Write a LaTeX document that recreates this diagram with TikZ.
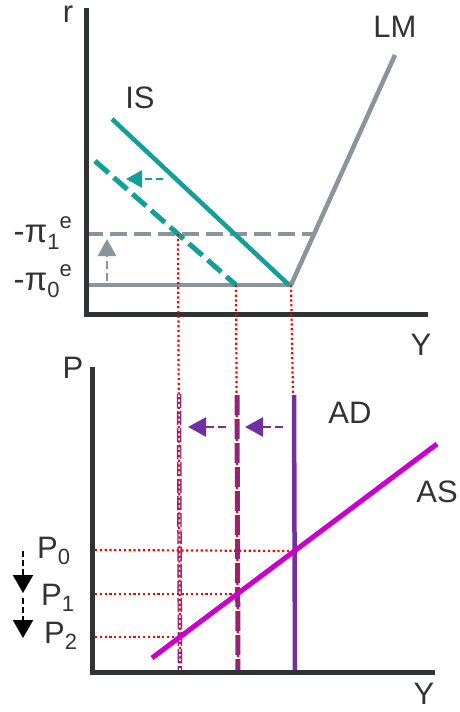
\documentclass[tikz,border=0pt]{standalone}
\usepackage{fontspec}
\setmainfont{Liberation Sans}
\usetikzlibrary{arrows.meta}
\definecolor{axisc}{HTML}{303335}
\definecolor{lmgray}{HTML}{8A949B}
\definecolor{tealc}{HTML}{10A098}
\definecolor{adpurple}{HTML}{7030A0}
\definecolor{asmag}{HTML}{CC00CC}
\definecolor{txtc}{HTML}{333333}
\newcommand\lowtx[1]{\raisebox{-0.22em}{\fontsize{22}{22}\selectfont #1}}
\newcommand\hightx[1]{\raisebox{0.42em}{\fontsize{22}{22}\selectfont #1}}
\begin{document}
\begin{tikzpicture}[x=1pt,y=-1pt,
  axisline/.style={draw=axisc, line width=5pt},
  lmline/.style={draw=lmgray, line width=4.5pt},
  lmdash/.style={draw=lmgray, line width=4.5pt, dash pattern=on 17pt off 7pt},
  isline/.style={draw=tealc, line width=4.5pt},
  isdash/.style={draw=tealc, line width=5pt, dash pattern=on 18pt off 7pt},
  guide/.style={draw=red, line width=2.2pt, dash pattern=on 2.2pt off 2.6pt},
  adline/.style={draw=adpurple, line width=4.5pt},
  addash/.style={draw=adpurple, line width=5pt, dash pattern=on 20pt off 4pt},
  addash2/.style={draw=adpurple, line width=4.5pt, dash pattern=on 14pt off 3pt},
  asline/.style={draw=asmag, line width=5pt},
  tealarrow/.style={draw=tealc, line width=2.6pt, dash pattern=on 7pt off 4pt, -{Triangle[length=16pt,width=17pt]}},
  grayarrow/.style={draw=lmgray, line width=2.6pt, dash pattern=on 8pt off 4pt, -{Triangle[length=17pt,width=18pt]}},
  purplearrow/.style={draw=adpurple, line width=2.6pt, dash pattern=on 8pt off 4pt, -{Triangle[length=18pt,width=19pt]}},
  blackarrow/.style={draw=black, line width=2.2pt, dash pattern=on 6pt off 3pt, -{Triangle[length=18pt,width=20pt]}},
  lbl/.style={text=txtc, font=\fontsize{31}{31}\selectfont, inner sep=0pt, anchor=base},
  plbl/.style={text=txtc, font=\fontsize{31}{31}\selectfont, inner sep=0pt, anchor=base west},
  pilbl/.style={text=txtc, font=\fontsize{33}{33}\selectfont, inner sep=0pt, anchor=base east}
]
\useasboundingbox (0,0) rectangle (459,712);

% ---------- coordinates: top panel ----------
\coordinate (rtop) at (86,8);
\coordinate (o1) at (86,314);
\coordinate (xend1) at (428,314);
\coordinate (lmk) at (291,285);
\coordinate (lmtop) at (395,55);
\coordinate (lm0s) at (86,285);
\coordinate (lm1s) at (86,234);
\coordinate (lm1e) at (314,234);
\coordinate (is0a) at (112,119);
\coordinate (is0b) at (289,285);
\coordinate (is1a) at (95,161);
\coordinate (is1b) at (236,285);
\coordinate (ta1) at (163,179);
\coordinate (ta2) at (126,179);
\coordinate (ga1) at (107,281);
\coordinate (ga2) at (107,239);

% ---------- coordinates: bottom panel ----------
\coordinate (ptop) at (92,367);
\coordinate (o2) at (92,672);
\coordinate (xend2) at (435,672);
\coordinate (ad0a) at (294,395);
\coordinate (ad0b) at (295,672);
\coordinate (ad1a) at (237,395);
\coordinate (ad1b) at (238,672);
\coordinate (ad2a) at (179,394);
\coordinate (ad2b) at (180,672);
\coordinate (asa) at (152,658);
\coordinate (asb) at (437,444);
\coordinate (pa1) at (283,427);
\coordinate (pa2) at (245,427);
\coordinate (pb1) at (226,427);
\coordinate (pb2) at (188,427);
\coordinate (g0s) at (178,234);
\coordinate (g0e) at (180,672);
\coordinate (g1s) at (236,285);
\coordinate (g1e) at (238,672);
\coordinate (g2s) at (291,285);
\coordinate (g2e) at (293,396);
\coordinate (h0s) at (95,550);
\coordinate (h0e) at (293,551);
\coordinate (h1s) at (95,594);
\coordinate (h1e) at (238,594);
\coordinate (h2s) at (95,637);
\coordinate (h2e) at (180,637);
\coordinate (ba1) at (23,551);
\coordinate (ba2) at (23,593);
\coordinate (bb1) at (23,598);
\coordinate (bb2) at (23,638);

% ---------- top panel ----------
\draw[lmline] (lm0s) -- (lmk);
\draw[lmline, line join=miter] (lmk) -- (lmtop);
\draw[lmdash] (lm1s) -- (lm1e);
\draw[isline] (is0a) -- (is0b);
\draw[isdash] (is1a) -- (is1b);
\draw[tealarrow] (ta1) -- (ta2);
\draw[grayarrow] (ga1) -- (ga2);
\draw[axisline] (rtop) -- (o1) -- (xend1);

% ---------- bottom panel ----------
\draw[adline] (ad0a) -- (ad0b);
\draw[addash] (ad1a) -- (ad1b);
\draw[addash2] (ad2a) -- (ad2b);
\draw[draw=white, line width=1.6pt] (ad2a) -- (ad2b);
\draw[guide] (g0s) -- (g0e);
\draw[guide] (g1s) -- (g1e);
\draw[guide] (g2s) -- (g2e);
\draw[guide] (h0s) -- (h0e);
\draw[guide] (h1s) -- (h1e);
\draw[guide] (h2s) -- (h2e);
\draw[asline] (asa) -- (asb);
\draw[purplearrow] (pa1) -- (pa2);
\draw[purplearrow] (pb1) -- (pb2);
\draw[axisline] (ptop) -- (o2) -- (xend2);
\draw[blackarrow] (ba1) -- (ba2);
\draw[blackarrow] (bb1) -- (bb2);

% ---------- labels ----------
\node[lbl] (lr) at (68,23) {r};
\node[lbl] (llm) at (395,37) {LM};
\node[lbl] (lis) at (140,108) {IS};
\node[lbl] (ly1) at (421,355) {Y};
\node[pilbl] (lpi1) at (72,242) {-π\lowtx{1}\hightx{e}};
\node[pilbl] (lpi0) at (72,290) {-π\lowtx{0}\hightx{e}};
\node[lbl] (lp) at (73,378) {P};
\node[lbl] (lad) at (350,423) {AD};
\node[lbl] (las) at (437,502) {AS};
\node[lbl] (ly2) at (424,704) {Y};
\node[plbl] (lp0) at (37,558) {P\lowtx{0}};
\node[plbl] (lp1) at (41,605) {P\lowtx{1}};
\node[plbl] (lp2) at (44,643) {P\lowtx{2}};
\end{tikzpicture}
\end{document}
